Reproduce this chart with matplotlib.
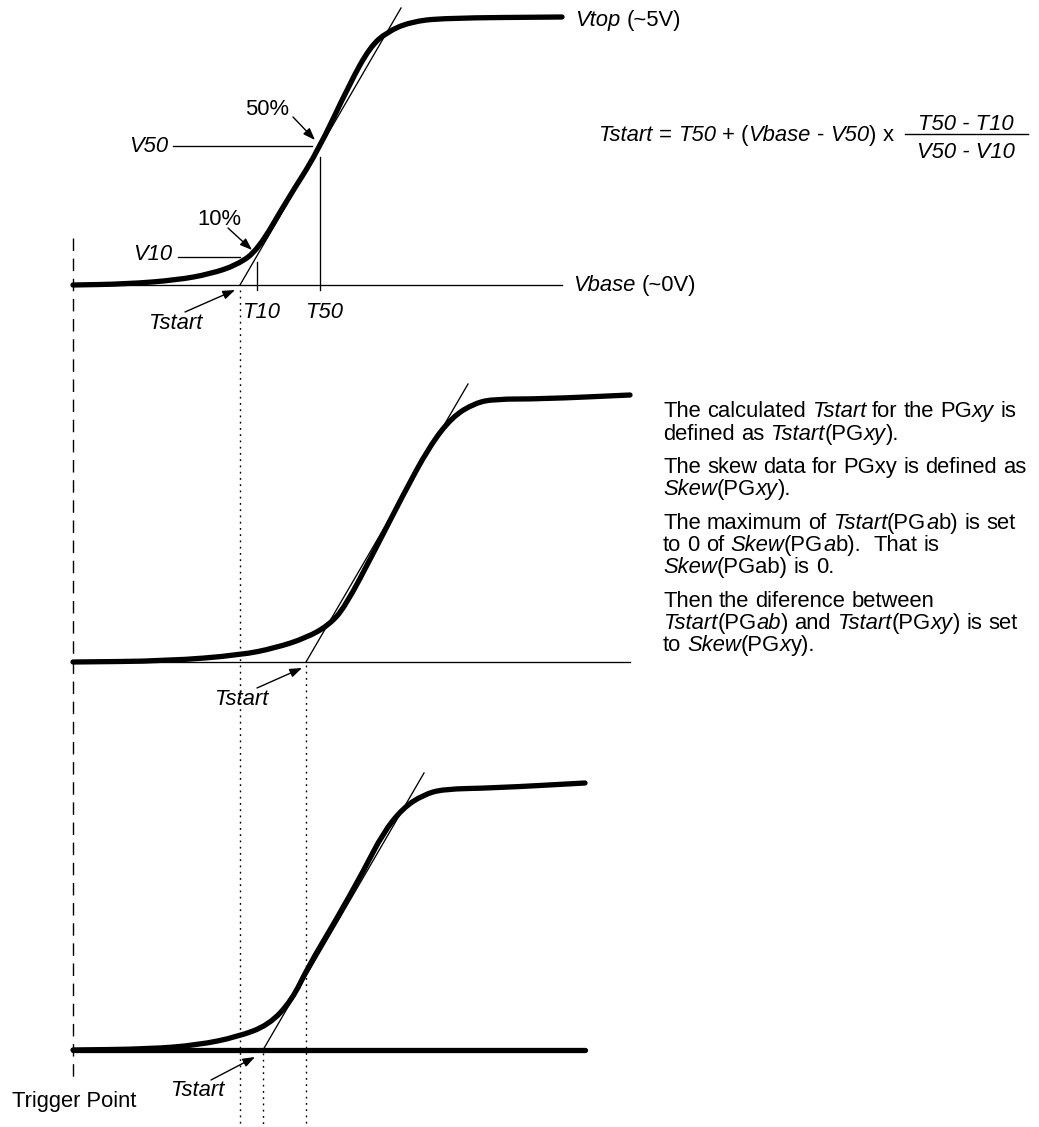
import matplotlib
matplotlib.use("Agg")
import matplotlib.pyplot as plt
from matplotlib.path import Path
from matplotlib.patches import PathPatch

W, H = 1039, 1127
FS = 15.8
FAMILY = "Liberation Sans"

# ---- waveform shapes (drawing coordinates, y grows downward) ----
top_x = [73, 127, 177, 210, 237, 258, 287, 317, 350, 370, 387, 410, 443, 562]
top_y = [285, 284, 280, 274, 265, 250, 200, 153, 83, 47, 32, 22, 18, 17]
mid_x = [73, 168, 241, 275, 306, 329, 345, 375, 402, 429, 452, 475, 495, 541, 630]
mid_y = [662, 661, 655, 648, 638, 625, 607, 550, 497, 447, 417, 403, 399, 399, 395]
bot_x = [73, 150, 198, 237, 269, 292, 308, 336, 364, 383, 403, 423, 443, 494, 585]
bot_y = [1050, 1049, 1045, 1037, 1025, 1000, 967, 920, 870, 833, 808, 795, 789, 788, 783]

# tangent lines (start, end)
tangents = [((240, 285), (401, 8)), ((306, 662), (468, 384)), ((263, 1050), (424, 773))]

# base lines
base_y = [285, 662]
base_x_end = [562, 630]
bot_base = (73, 585, 1050)

# guide lines top panel
v50_line = (173, 312, 146)
v10_line = (178, 240, 257)
t50_line = (320, 157, 290)
t10_line = (257, 262, 290)

# dotted Tstart verticals (x, y_start)
dotted = [(240, 290), (306, 665), (263, 1053)]
trigger = (73, 238, 1083)

# arrows: tail -> head
arrows = [((293, 117), (315, 140)), ((228, 228), (252, 250)), ((185, 312), (235, 290)),
          ((257, 688), (302, 668)), ((211, 1080), (255, 1057))]

fig = plt.figure(figsize=(W / 100, H / 100), dpi=100)
ax = fig.add_axes([0, 0, 1, 1])
ax.set_xlim(0, W)
ax.set_ylim(H, 0)
ax.axis("off")

THICK = 3.8
THIN = 0.95


def smooth_path(xs, ys):
    pts = list(zip(xs, ys))
    verts = [pts[0]]
    codes = [Path.MOVETO]
    mid = lambda a, b: ((a[0] + b[0]) / 2, (a[1] + b[1]) / 2)
    verts.append(mid(pts[0], pts[1]))
    codes.append(Path.LINETO)
    for i in range(1, len(pts) - 1):
        verts += [pts[i], mid(pts[i], pts[i + 1])]
        codes += [Path.CURVE3, Path.CURVE3]
    verts.append(pts[-1])
    codes.append(Path.LINETO)
    return Path(verts, codes)


for xs, ys in [(top_x, top_y), (mid_x, mid_y), (bot_x, bot_y)]:
    ax.add_patch(PathPatch(smooth_path(xs, ys), fill=False, edgecolor="black", lw=THICK,
                           capstyle="round", joinstyle="round", zorder=3))
for (x0, y0), (x1, y1) in tangents:
    ax.plot([x0, x1], [y0, y1], color="black", lw=THIN, zorder=4)
for y, xe in zip(base_y, base_x_end):
    ax.plot([73, xe], [y, y], color="black", lw=THIN, zorder=2)
ax.plot([bot_base[0], bot_base[1]], [bot_base[2], bot_base[2]], color="black", lw=THICK,
        solid_capstyle="round", zorder=3)

ax.plot([v50_line[0], v50_line[1]], [v50_line[2]] * 2, color="black", lw=THIN)
ax.plot([v10_line[0], v10_line[1]], [v10_line[2]] * 2, color="black", lw=THIN)
ax.plot([t50_line[0]] * 2, [t50_line[1], t50_line[2]], color="black", lw=THIN)
ax.plot([t10_line[0]] * 2, [t10_line[1], t10_line[2]], color="black", lw=THIN)

for x, y0 in dotted:
    ax.plot([x, x], [y0, H], color="black", lw=1.0, linestyle=(0, (1.3, 3.2)))
ax.plot([trigger[0]] * 2, [trigger[1], trigger[2]], color="black", lw=1.0,
        linestyle=(0, (9, 5.5)))

for (tx, ty), (hx, hy) in arrows:
    ax.annotate("", xy=(hx, hy), xytext=(tx, ty),
                arrowprops=dict(arrowstyle="-|>,head_length=0.6,head_width=0.22",
                                mutation_scale=12, color="black", lw=1.0,
                                shrinkA=0, shrinkB=0))

fig.canvas.draw()
renderer = fig.canvas.get_renderer()


def _w(s, it, fs):
    t = ax.text(0, 0, s, fontsize=fs, family=FAMILY, style="italic" if it else "normal")
    w = t.get_window_extent(renderer).width
    t.remove()
    return w


def width(s, it, fs=FS):
    return _w("|" + s + "|", it, fs) - _w("||", it, fs)


def rich(x, y, pieces, fs=FS):
    sp = {}
    for s, it in pieces:
        parts = s.split(" ")
        for i, p in enumerate(parts):
            if i > 0:
                if it not in sp:
                    sp[it] = width("a a", it, fs) - width("aa", it, fs)
                x += sp[it]
            if p:
                ax.text(x, y, p, fontsize=fs, family=FAMILY,
                        style="italic" if it else "normal", ha="left", va="baseline")
                x += width(p, it, fs)
    return x


# labels in top panel
rich(575, 26, [("Vtop", 1), (" (~5V)", 0)])
rich(573, 291, [("Vbase", 1), (" (~0V)", 0)])
ax.text(168, 152, "V50", fontsize=FS, family=FAMILY, style="italic", ha="right", va="baseline")
ax.text(172, 260, "V10", fontsize=FS, family=FAMILY, style="italic", ha="right", va="baseline")
ax.text(245, 115, "50%", fontsize=FS, family=FAMILY, ha="left", va="baseline")
ax.text(197, 225, "10%", fontsize=FS, family=FAMILY, ha="left", va="baseline")
ax.text(242, 318, "T10", fontsize=FS, family=FAMILY, style="italic", ha="left", va="baseline")
ax.text(305, 318, "T50", fontsize=FS, family=FAMILY, style="italic", ha="left", va="baseline")
ax.text(148, 329, "Tstart", fontsize=FS, family=FAMILY, style="italic", ha="left", va="baseline")
ax.text(214, 705, "Tstart", fontsize=FS, family=FAMILY, style="italic", ha="left", va="baseline")
ax.text(170, 1096, "Tstart", fontsize=FS, family=FAMILY, style="italic", ha="left", va="baseline")
ax.text(12, 1107, "Trigger Point", fontsize=FS, family=FAMILY, ha="left", va="baseline")

# formula
rich(598, 141, [("Tstart", 1), (" = ", 0), ("T50", 1), (" + (", 0), ("Vbase", 1),
                (" - ", 0), ("V50", 1), (") x", 0)])
ax.plot([905, 1028], [134, 134], color="black", lw=1.0)
ax.text(966, 130, "T50 - T10", fontsize=FS, family=FAMILY, style="italic", ha="center", va="baseline")
ax.text(966, 158, "V50 - V10", fontsize=FS, family=FAMILY, style="italic", ha="center", va="baseline")

# explanatory text
lines = [
    [("The calculated ", 0), ("Tstart", 1), (" for the PG", 0), ("xy", 1), (" is", 0)],
    [("defined as ", 0), ("Tstart", 1), ("(PG", 0), ("xy", 1), (").", 0)],
    [("The skew data for PGxy is defined as", 0)],
    [("Skew", 1), ("(PG", 0), ("xy", 1), (").", 0)],
    [("The maximum of ", 0), ("Tstart", 1), ("(PG", 0), ("a", 1), ("b) is set", 0)],
    [("to 0 of ", 0), ("Skew", 1), ("(PG", 0), ("a", 1), ("b).  That is", 0)],
    [("Skew", 1), ("(PGab) is 0.", 0)],
    [("Then the diference between", 0)],
    [("Tstart", 1), ("(PG", 0), ("ab", 1), (") and ", 0), ("Tstart", 1), ("(PG", 0),
     ("xy", 1), (") is set", 0)],
    [("to ", 0), ("Skew", 1), ("(PG", 0), ("x", 1), ("y).", 0)],
]
line_base = [417, 440, 473, 495, 529, 551, 573, 607, 629, 651]
for pcs, yb in zip(lines, line_base):
    rich(663, yb, pcs)

fig.savefig("out.png", dpi=100)
